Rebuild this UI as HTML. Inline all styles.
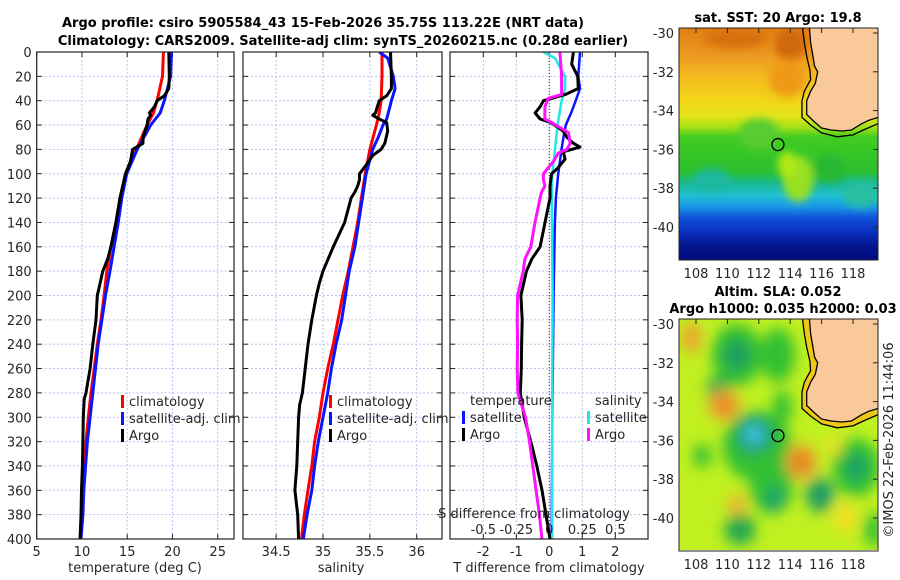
<!DOCTYPE html>
<html><head><meta charset="utf-8">
<style>
html,body{margin:0;padding:0;background:#fff;}
svg{display:block;font-family:"DejaVu Sans","Liberation Sans",sans-serif;}
.t{font-size:13px;fill:#262626;}
.b{font-size:13px;font-weight:bold;fill:#000;}
</style></head>
<body>
<svg id="fig" width="900" height="580" viewBox="0 0 900 580" xmlns="http://www.w3.org/2000/svg">
<defs>
<clipPath id="c1"><rect x="36.7" y="52" width="197.5" height="487"/></clipPath>
<clipPath id="c2"><rect x="243" y="52" width="199" height="487"/></clipPath>
<clipPath id="c3"><rect x="450" y="52" width="198" height="487"/></clipPath>
<clipPath id="m1"><rect x="679" y="28" width="199" height="232"/></clipPath>
<clipPath id="m2"><rect x="679" y="319" width="199" height="231"/></clipPath>
<filter id="blur" x="-50%" y="-50%" width="200%" height="200%"><feGaussianBlur stdDeviation="7"/></filter>
<filter id="blur2" x="-50%" y="-50%" width="200%" height="200%"><feGaussianBlur stdDeviation="4"/></filter>
<linearGradient id="sst" x1="0" y1="0" x2="0" y2="1">
<stop offset="0" stop-color="#e07e14"/><stop offset="0.12" stop-color="#ec9a20"/>
<stop offset="0.2" stop-color="#f4b820"/><stop offset="0.3" stop-color="#f2d218"/>
<stop offset="0.38" stop-color="#e4e418"/><stop offset="0.43" stop-color="#a0e018"/>
<stop offset="0.47" stop-color="#40cc20"/><stop offset="0.62" stop-color="#2cc030"/>
<stop offset="0.67" stop-color="#18b890"/><stop offset="0.72" stop-color="#20c0d0"/>
<stop offset="0.77" stop-color="#1a98e6"/><stop offset="0.82" stop-color="#1050d8"/>
<stop offset="0.88" stop-color="#0a30c0"/><stop offset="0.94" stop-color="#04148c"/>
<stop offset="1" stop-color="#000c80"/>
</linearGradient>
</defs>
<text class="b" x="323" y="27" text-anchor="middle">Argo profile: csiro 5905584_43 15-Feb-2026 35.75S 113.22E (NRT data)</text>
<text class="b" x="343" y="45" text-anchor="middle">Climatology: CARS2009. Satellite-adj clim: synTS_20260215.nc (0.28d earlier)</text>
<g id="g1"></g>
<g id="g2"></g>
<g id="g3"></g>
<g id="maps"></g>
<text class="t" transform="translate(893,440) rotate(-90)" text-anchor="middle">©IMOS 22-Feb-2026 11:44:06</text>
</svg>
<script>
// ---- data ----
const depthTclim=[0,20,40,50,60,80,100,120,140,160,180,200,220,240,260,280,300,320,340,360,380,400];
const tempClim=[19.0,18.9,18.3,17.9,17.2,16.0,14.85,14.2,13.75,13.2,12.75,12.45,12.1,11.7,11.35,11.0,10.7,10.45,10.25,10.1,9.95,9.8];
const tempSat=[19.9,19.8,19.1,18.65,17.6,16.1,14.95,14.4,14.0,13.55,13.1,12.6,12.2,11.8,11.5,11.2,10.9,10.6,10.4,10.2,10.1,9.9];
const depthArgo=[0,20,30,36,40,45,50,52,55,60,70,75,80,90,100,120,140,160,170,180,190,200,220,240,260,280,285,300,320,340,360,380,400];
const tempArgo=[19.6,19.65,19.6,19.1,18.3,18.0,17.45,17.6,17.3,17.2,16.75,16.75,15.6,15.35,14.8,14.2,13.75,13.2,12.85,12.3,12.0,11.7,11.55,11.2,10.9,10.45,10.25,10.15,10.1,10.05,9.95,9.9,9.8];
const salClim=[35.63,35.63,35.62,35.6,35.57,35.5,35.45,35.41,35.37,35.32,35.27,35.21,35.16,35.11,35.05,35.0,34.96,34.91,34.88,34.84,34.80,34.77];
const depthSsat=[0,5,20,30,40,55,60,70,80,100,120,140,160,180,200,220,240,260,280,300,320,340,360,380,400];
const salSat=[35.6,35.69,35.75,35.77,35.73,35.68,35.64,35.59,35.53,35.46,35.42,35.38,35.34,35.28,35.24,35.2,35.14,35.09,35.05,35.0,34.95,34.91,34.88,34.83,34.79];
const depthSargo=[0,20,30,36,40,45,50,52,55,58,65,75,80,85,95,100,105,110,115,120,140,160,180,190,200,220,240,260,280,290,300,320,340,360,380,400];
const salArgo=[35.72,35.73,35.73,35.68,35.6,35.58,35.56,35.53,35.6,35.68,35.69,35.66,35.62,35.53,35.44,35.39,35.39,35.37,35.34,35.3,35.23,35.11,35.0,34.96,34.93,34.88,34.84,34.81,34.78,34.75,34.74,34.73,34.72,34.70,34.73,34.74];
const depthDsat=[0,20,30,40,50,60,70,80,90,100,120,140,200,300,400];
const tDiffSat=[0.93,0.88,0.93,0.8,0.66,0.5,0.43,0.37,0.32,0.27,0.2,0.17,0.13,0.09,0.07];
const depthDargo=[0,10,20,30,35,40,45,50,55,58,62,65,70,75,78,82,88,95,100,110,120,140,160,170,180,200,220,240,260,280,300,320,340,360,380,400];
const tDiffArgo=[0.73,0.68,0.86,0.88,0.48,-0.18,-0.28,-0.43,-0.28,0.05,0.27,0.42,0.53,0.73,0.93,0.42,0.48,0.27,0.07,0.02,0.02,-0.13,-0.28,-0.53,-0.69,-0.86,-0.82,-0.84,-0.85,-0.88,-0.76,-0.56,-0.38,-0.22,-0.1,0.02];
const depthSDsat=[0,5,20,30,40,60,80,100,120,200,300,400];
const sDiffSat=[-0.045,0.043,0.12,0.12,0.093,0.063,0.043,0.023,0.018,0.025,0.022,0.022];
const depthSDargo=[0,20,35,38,45,50,55,58,62,66,75,80,83,90,95,100,105,110,115,120,140,160,170,180,200,220,240,260,280,300,320,340,360,380,400];
const sDiffArgo=[0.08,0.093,0.093,-0.008,-0.033,-0.033,-0.033,0.018,0.08,0.145,0.158,0.133,0.068,0.03,-0.008,-0.045,-0.045,-0.033,-0.058,-0.07,-0.108,-0.14,-0.185,-0.198,-0.24,-0.243,-0.24,-0.243,-0.238,-0.18,-0.15,-0.125,-0.1,-0.075,-0.055];
const depthTicks=[0,20,40,60,80,100,120,140,160,180,200,220,240,260,280,300,320,340,360,380,400];
const tTicks=[5,10,15,20,25];
const sTicks=[34.5,35,35.5,36];
const dTicks=[-2,-1,0,1,2];
const sdTicks=[-0.5,-0.25,0,0.25,0.5];
const sdTickLabels=["-0.5","-0.25","0","0.25","0.5"];
const argoLon=113.22, argoLat=-35.75;

// ---- axes ----
const yD=d=>52+d*1.2175;
const x1=t=>36.7+(t-5)*9.05;
const x2=s=>323+(s-35)*93.7;
const x3=t=>549.3+t*33;
const x3s=s=>x3(s*4);
const NS="http://www.w3.org/2000/svg";
function mk(tag,attrs,parent){const e=document.createElementNS(NS,tag);for(const k in attrs)e.setAttribute(k,attrs[k]);parent.appendChild(e);return e;}
function txt(s,attrs,parent){const e=mk('text',attrs,parent);e.textContent=s;return e;}

function panel(g,x0,x1p,clip,xticks,xf,showY,xlabels){
  const bg=mk('rect',{x:x0,y:52,width:x1p-x0,height:487,fill:'#fff'},g);
  
  
  depthTicks.forEach(d=>{
    const l=mk('line',{x1:x0,x2:x1p,y1:yD(d),y2:yD(d),stroke:'#b8c4ec','stroke-width':1,'stroke-dasharray':'2,2'},g);
    
    
    mk('line',{x1:x0,x2:x0+5,y1:yD(d),y2:yD(d),stroke:'#222'},g);
    mk('line',{x1:x1p-5,x2:x1p,y1:yD(d),y2:yD(d),stroke:'#222'},g);
    if(showY){const t=txt(String(d),{class:'t',x:x0-5,y:yD(d)+5,'text-anchor':'end'},g);
      
      }
  });
  xticks.forEach(v=>{
    const x=xf(v);
    const l=mk('line',{x1:x,x2:x,y1:52,y2:539,stroke:'#b8c4ec','stroke-width':1,'stroke-dasharray':'2,2'},g);
    
    
    mk('line',{x1:x,x2:x,y1:534,y2:539,stroke:'#222'},g);
    mk('line',{x1:x,x2:x,y1:52,y2:57,stroke:'#222'},g);
    if(xlabels){const t=txt(String(v),{class:'t',x:x,y:556,'text-anchor':'middle'},g);
      
      }
  });
}
function line(g,xs,ds,xf,color,clip,name,w){
  const pts=xs.map((v,i)=>xf(v).toFixed(1)+','+yD(ds[i]).toFixed(1)).join(' ');
  const p=mk('polyline',{points:pts,fill:'none',stroke:color,'stroke-width':w||3,'stroke-linejoin':'round','clip-path':'url(#'+clip+')'},g);
  
  
}
function frame(g,x0,x1p){mk('rect',{x:x0,y:52,width:x1p-x0,height:487,fill:'none',stroke:'#222','stroke-width':1.2},g);}
function legItem(g,x,y,color,label,name){
  mk('rect',{x:x,y:y-11,width:3,height:13,fill:color},g);
  const t=txt(label,{class:'t',x:x+8,y:y},g);
  
  
}

// panel 1
const g1=document.getElementById('g1');
panel(g1,36.7,234,'c1',tTicks,x1,true,true);
line(g1,tempClim,depthTclim,x1,'#ff0000','c1','temp-climatology-line');
line(g1,tempSat,depthTclim,x1,'#0a14ff','c1','temp-satellite-line');
line(g1,tempArgo,depthArgo,x1,'#000','c1','temp-argo-line');
legItem(g1,121,406,'#ff0000','climatology','legend-climatology');
legItem(g1,121,423,'#0a14ff','satellite-adj. clim','legend-satellite-adj');
legItem(g1,121,440,'#000','Argo','legend-argo');
frame(g1,36.7,234);
let at=txt('temperature (deg C)',{class:'t',x:135,y:572,'text-anchor':'middle'},g1);


// panel 2
const g2=document.getElementById('g2');
panel(g2,243,442,'c2',sTicks,x2,false,true);
line(g2,salClim,depthTclim,x2,'#ff0000','c2','sal-climatology-line');
line(g2,salSat,depthSsat,x2,'#0a14ff','c2','sal-satellite-line');
line(g2,salArgo,depthSargo,x2,'#000','c2','sal-argo-line');
legItem(g2,329,406,'#ff0000','climatology','legend-climatology');
legItem(g2,329,423,'#0a14ff','satellite-adj. clim','legend-satellite-adj');
legItem(g2,329,440,'#000','Argo','legend-argo');
frame(g2,243,442);
at=txt('salinity',{class:'t',x:341,y:572,'text-anchor':'middle'},g2);


// panel 3
const g3=document.getElementById('g3');
panel(g3,450,648,'c3',dTicks,x3,false,true);
mk('line',{x1:x3(0),x2:x3(0),y1:52,y2:539,stroke:'#333','stroke-width':1,'stroke-dasharray':'1,2'},g3);
line(g3,tDiffSat,depthDsat,x3,'#0a14ff','c3','tdiff-satellite-line',2.5);
line(g3,sDiffSat,depthSDsat,x3s,'#20e8e8','c3','sdiff-satellite-line',2.5);
line(g3,tDiffArgo,depthDargo,x3,'#000','c3','tdiff-argo-line');
line(g3,sDiffArgo,depthSDargo,x3s,'#ff10ff','c3','sdiff-argo-line');
let lt=txt('temperature',{class:'t',x:470,y:405},g3);
lt=txt('salinity',{class:'t',x:595,y:405},g3);
legItem(g3,462,422,'#0a14ff','satellite','legend-t-satellite');
legItem(g3,462,439,'#000','Argo','legend-t-argo');
legItem(g3,587,422,'#20e8e8','satellite','legend-s-satellite');
legItem(g3,587,439,'#ff10ff','Argo','legend-s-argo');
lt=txt('S difference from climatology',{class:'t',x:534,y:518,'text-anchor':'middle'},g3);
sdTicks.forEach((v,i)=>{const t=txt(sdTickLabels[i],{class:'t',x:x3s(v),y:534,'text-anchor':'middle'},g3);
  
  });
frame(g3,450,648);
at=txt('T difference from climatology',{class:'t',x:549,y:572,'text-anchor':'middle'},g3);


// ---- maps ----
const gm=document.getElementById('maps');
const lonX=lon=>696+(lon-108)*15.7;
function latY(top){return lat=>top+(-30-lat)*19.4;}
const land=[[115.2,-29.5],[115.3,-30.5],[115.45,-31.2],[115.55,-31.7],[115.75,-32.0],[115.6,-32.6],[115.3,-33.0],[115.05,-33.5],[115.05,-34.2],[115.5,-34.55],[116,-34.9],[116.6,-35.0],[117.3,-35.05],[117.9,-35.0],[118.5,-34.7],[119.0,-34.5],[119.8,-34.3],[119.8,-29.5]];
const shelf=[[114.75,-29.5],[114.9,-30.5],[115.05,-31.2],[115.25,-31.9],[115.3,-32.4],[114.9,-33.0],[114.75,-33.5],[114.75,-34.35],[115.3,-34.75],[116,-35.15],[117,-35.35],[118,-35.25],[118.8,-34.95],[119.8,-34.6]];
const lonTicks=[108,110,112,114,116,118];
const latTicks=[-30,-32,-34,-36,-38,-40];
const slaBlobs=[ // lon, lat, rx(deg), ry(deg), colour
 [110.6,-31.6,1.6,1.6,'#30c030'],[110.6,-31.6,0.8,0.8,'#1c9c64'],[113.2,-31.6,1.1,1.4,'#30c030'],[109.4,-33.4,0.7,0.7,'#24a850'],
 [111.9,-36.3,2.2,1.8,'#30c030'],[111.7,-35.7,1.2,1.0,'#1c9c70'],[111.7,-35.7,0.6,0.5,'#40c8e8'],[113.5,-34.3,0.6,0.9,'#30c030'],
 [112.8,-38.3,1.4,1.5,'#30c030'],[113.0,-39.0,0.6,0.6,'#1aa070'],[115.9,-38.8,0.9,0.9,'#1c9c64'],[118.2,-37.4,1.5,1.5,'#30c030'],
 [118.2,-37.4,0.7,0.7,'#18a068'],[110.8,-40.6,1.0,0.8,'#24a850'],[108.4,-36.8,0.6,0.6,'#30c030'],[119.3,-40.6,0.6,0.9,'#30c030'],
 [109.8,-34.2,1.0,0.8,'#f0a030'],[109.8,-34.2,0.5,0.4,'#e88020'],[114.7,-37.1,1.0,0.9,'#f0a030'],[114.7,-37.1,0.5,0.5,'#e07818'],
 [110.6,-39.3,0.6,0.5,'#f0b030'],[107.7,-30.7,0.6,0.8,'#f0a030'],[117.5,-40.0,0.8,0.8,'#f0e020'],[116.8,-36.3,0.5,0.5,'#f0e020']];
const sstBlobs=[[112.0,-35.2,1.3,0.8,'#58cc30'],[114.5,-37.5,1.0,1.2,'#98e020'],[113.8,-36.8,0.6,0.7,'#b0e818'],[116.5,-37.0,1.0,0.7,'#28b830'],[109.0,-37.6,1.2,0.6,'#1cb8a0'],[118.5,-38.3,1.2,0.7,'#28c0a0'],[110.5,-30.3,2,0.5,'#d87010'],[114,-30.6,1,0.8,'#d06808'],[113.8,-32.3,1.2,1.0,'#ee9a18']];

function drawMap(top,bottomY,clip,kind){
  const ly=latY(top);
  const g=mk('g',{'clip-path':'url(#'+clip+')'},gm);
  
  
  if(kind==='sst'){
    mk('rect',{x:679,y:top-5,width:199,height:232,fill:'url(#sst)'},g);
    const bg=mk('g',{filter:'url(#blur2)'},g);
    sstBlobs.forEach(b=>mk('ellipse',{cx:lonX(b[0]),cy:ly(b[1]),rx:b[2]*15.7,ry:b[3]*19.4,fill:b[4]},bg));
  } else {
    mk('rect',{x:679,y:top-5,width:199,height:232,fill:'#c0f020'},g);
    const bg=mk('g',{filter:'url(#blur)'},g);
    slaBlobs.forEach(b=>mk('ellipse',{cx:lonX(b[0]),cy:ly(b[1]),rx:b[2]*15.7,ry:b[3]*19.4,fill:b[4]},bg));
  }
  const sp=shelf.map(p=>lonX(p[0])+','+ly(p[1])).join(' ');
  if(kind!=='sst') mk('polygon',{points:sp+' '+lonX(119.8)+','+ly(-29.5),fill:'#f0c818'},g);
  mk('polyline',{points:sp,fill:'none',stroke:'#000','stroke-width':1.3},g);
  const lp=land.map(p=>lonX(p[0])+','+ly(p[1])).join(' ');
  const lnd=mk('polygon',{points:lp,fill:'#f9c99a',stroke:'#000','stroke-width':1.3},g);
  
  
  const c=mk('circle',{cx:lonX(argoLon),cy:ly(argoLat),r:6,fill:'none',stroke:'#000','stroke-width':1.3},gm);
  
  
  mk('rect',{x:679,y:top-5,width:199,height:232,fill:'none',stroke:'#222','stroke-width':1},gm);
  latTicks.forEach(v=>{const t=txt(String(v),{class:'t',x:674,y:ly(v)+5,'text-anchor':'end'},gm);
    
    mk('line',{x1:873,x2:878,y1:ly(v),y2:ly(v),stroke:'#222'},gm);});
  lonTicks.forEach(v=>{const t=txt(String(v),{class:'t',x:lonX(v),y:bottomY,'text-anchor':'middle'},gm);
    
    mk('line',{x1:lonX(v),x2:lonX(v),y1:top-5,y2:top,stroke:'#222'},gm);});
}
drawMap(33,278,'m1','sst');
drawMap(324,569,'m2','sla');
let mt=txt('sat. SST: 20 Argo: 19.8',{class:'b',x:778,y:22,'text-anchor':'middle'},gm);

mt=txt('Altim. SLA: 0.052',{class:'b',x:778,y:296,'text-anchor':'middle'},gm);

mt=txt('Argo h1000: 0.035 h2000: 0.03',{class:'b',x:783,y:313,'text-anchor':'middle'},gm);

</script>
</body></html>
